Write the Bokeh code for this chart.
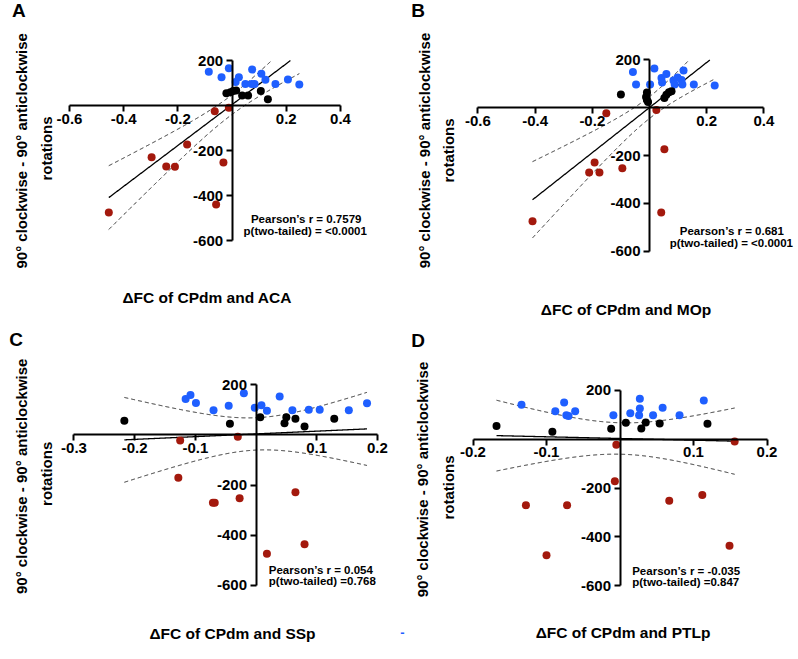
import math
import numpy as np
from bokeh.plotting import figure
from bokeh.models import LinearAxis, FixedTicker, PrintfTickFormatter, Label, Range1d
from bokeh.layouts import gridplot
from bokeh.embed import file_html
from bokeh.resources import INLINE

# ---------------- data ----------------
# Panel A : dFC of CPdm and ACA
blue_x_A = [-0.086, -0.039, -0.012, 0.013, 0.025, 0.049, 0.072, 0.083, 0.074, 0.108, 0.123, 0.160, 0.206, 0.248]
blue_y_A = [150, 126, 166, 104, 126, 96, 96, 96, 160, 141, 114, 96, 116, 93]
black_x_A = [-0.021, -0.006, 0.004, 0.015, 0.037, 0.059, 0.106, 0.132]
black_y_A = [55, 59, 64, 67, 44, 44, 64, 28]
red_x_A = [-0.064, -0.012, -0.166, -0.297, -0.243, -0.211, -0.032, -0.059, -0.455]
red_y_A = [-25, -10, -173, -230, -271, -272, -253, -440, -476]

# Panel B : dFC of CPdm and MOp
blue_x_B = [-0.058, -0.047, 0.002, 0.017, 0.042, 0.044, 0.059, 0.084, 0.088, 0.098, 0.112, 0.115, 0.119, 0.155, 0.228]
blue_y_B = [149, 97, 97, 164, 124, 105, 141, 114, 97, 126, 116, 97, 156, 97, 93]
black_x_B = [-0.100, -0.009, -0.012, -0.009, -0.005, 0.052, 0.059, 0.068, 0.077]
black_y_B = [55, 64, 45, 32, 24, 41, 54, 65, 69]
red_x_B = [-0.151, 0.024, 0.052, -0.192, -0.211, -0.175, -0.095, 0.041, -0.409]
red_y_B = [-23, -10, -174, -229, -271, -271, -253, -438, -475]

# Panel C : dFC of CPdm and SSp
blue_x_C = [-0.116, -0.108, -0.099, -0.070, -0.045, -0.020, -0.002, 0.009, 0.018, 0.039, 0.060, 0.087, 0.105, 0.153, 0.183]
blue_y_C = [143, 159, 127, 98, 116, 166, 108, 118, 96, 153, 98, 100, 100, 98, 126]
black_x_C = [-0.217, -0.043, 0.007, 0.050, 0.047, 0.065, 0.080, 0.129]
black_y_C = [56, 44, 70, 70, 46, 64, 33, 64]
red_x_C = [-0.125, -0.030, -0.128, -0.071, -0.068, -0.027, 0.065, 0.018, 0.080]
red_y_C = [-23, -8, -171, -271, -271, -253, -229, -474, -436]

# Panel D : dFC of CPdm and PTLp
blue_x_D = [-0.134, -0.088, -0.076, -0.073, -0.070, -0.061, -0.009, 0.014, 0.026, 0.027, 0.027, 0.045, 0.058, 0.081, 0.114]
blue_y_D = [140, 114, 150, 98, 94, 114, 98, 106, 98, 125, 165, 98, 128, 98, 158]
black_x_D = [-0.168, -0.092, -0.012, 0.008, 0.029, 0.035, 0.054, 0.119]
black_y_D = [54, 30, 42, 67, 43, 68, 64, 63]
red_x_D = [-0.005, 0.156, -0.128, -0.072, -0.100, -0.007, 0.067, 0.112, 0.149]
red_y_D = [-23, -10, -270, -270, -475, -172, -252, -229, -436]

xticks_AB = [-0.6, -0.4, -0.2, 0.2, 0.4]
xticks_C = [-0.3, -0.2, -0.1, 0.1, 0.2]
xticks_D = [-0.2, -0.1, 0.1, 0.2]
yticks = [-600, -400, -200, 200]

panel_letters = ["A", "B", "C", "D"]
x_titles = ["ΔFC of CPdm and ACA", "ΔFC of CPdm and MOp", "ΔFC of CPdm and SSp", "ΔFC of CPdm and PTLp"]
y_title_1 = "90° clockwise - 90° anticlockwise"
y_title_2 = "rotations"
stats_1 = ["Pearson’s r = 0.7579", "Pearson’s r = 0.681", "Pearson’s r = 0.054", "Pearson’s r = -0.035"]
stats_2 = ["p(two-tailed) = <0.0001", "p(two-tailed) = <0.0001", "p(two-tailed) =0.768", "p(two-tailed) =0.847"]

# ---------------- styling / layout ----------------
FONT = "Liberation Sans"
BLUE = "#1f5fff"
RED = "#a3190d"
W, H = 399, 329

layout_cfg = [
    dict(L=0, T=0, x0=231.6, sx=271.0, y0=105.0, sy=0.225, xt=xticks_AB,
         title=(206.7, 297), yl1=(20.7, 150.3), yl2=(45.5, 148), st=((305.7, 218.3), (304.7, 230.7)),
         st_align="center", letter=(18.3, 9.5)),
    dict(L=399, T=0, x0=649.0, sx=286.0, y0=107.2, sy=0.239, xt=xticks_AB,
         title=(625.5, 309), yl1=(424.0, 150), yl2=(448.3, 150), st=((731.3, 230), (730.8, 242.7)),
         st_align="center", letter=(417.5, 9.7)),
    dict(L=0, T=329, x0=255.5, sx=606.7, y0=434.3, sy=0.251, xt=xticks_C,
         title=(232.0, 633), yl1=(20.7, 475.8), yl2=(45.5, 473.3), st=((268.3, 569), (268.3, 580)),
         st_align="left", letter=(15.5, 339)),
    dict(L=399, T=329, x0=619.5, sx=735.0, y0=438.6, sy=0.2446, xt=xticks_D,
         title=(622.5, 632), yl1=(422.3, 479), yl2=(447.5, 487), st=((631.7, 570), (631.7, 581.7)),
         st_align="left", letter=(417.5, 340)),
]

series = [
    (blue_x_A, blue_y_A, black_x_A, black_y_A, red_x_A, red_y_A),
    (blue_x_B, blue_y_B, black_x_B, black_y_B, red_x_B, red_y_B),
    (blue_x_C, blue_y_C, black_x_C, black_y_C, red_x_C, red_y_C),
    (blue_x_D, blue_y_D, black_x_D, black_y_D, red_x_D, red_y_D),
]


def t_crit(df, q=0.975):
    c = math.gamma((df + 1) / 2) / (math.sqrt(df * math.pi) * math.gamma(df / 2))

    def cdf(t):
        g = np.linspace(0, t, 2001)
        f = c * (1 + g ** 2 / df) ** (-(df + 1) / 2)
        return 0.5 + np.trapezoid(f, g)

    lo, hi = 0.0, 10.0
    for _ in range(60):
        mid = (lo + hi) / 2
        if cdf(mid) < q:
            lo = mid
        else:
            hi = mid
    return (lo + hi) / 2


def fit_band(x, y):
    x = np.asarray(x, float)
    y = np.asarray(y, float)
    n = len(x)
    xb, yb = x.mean(), y.mean()
    sxx = ((x - xb) ** 2).sum()
    b = ((x - xb) * (y - yb)).sum() / sxx
    a = yb - b * xb
    s = math.sqrt(((y - (a + b * x)) ** 2).sum() / (n - 2))
    t = t_crit(n - 2)
    gx = np.linspace(x.min(), x.max(), 600)
    fy = a + b * gx
    hw = t * s * np.sqrt(1 / n + (gx - xb) ** 2 / sxx)
    return gx, fy, fy + hw, fy - hw


def clip(v, lo, hi):
    v = v.copy()
    v[(v > hi) | (v < lo)] = np.nan
    return v


def add_text(p, cfg, pos, text, size, align="center", angle=0.0, color="black"):
    px, py = pos
    p.add_layout(Label(x=px - cfg["L"], y=(cfg["T"] + H) - py, x_units="screen", y_units="screen",
                       text=text, text_align=align, text_baseline="middle", angle=angle,
                       text_font=FONT, text_font_style="bold", text_font_size=size,
                       text_color=color))


def style_axis(ax):
    ax.axis_line_width = 2
    ax.axis_line_color = "black"
    ax.major_tick_line_width = 2
    ax.major_tick_line_color = "black"
    ax.major_tick_out = 6
    ax.major_tick_in = 0
    ax.minor_tick_out = 0
    ax.minor_tick_in = 0
    ax.major_label_text_font = FONT
    ax.major_label_text_font_style = "bold"
    ax.major_label_text_font_size = "15px"
    ax.major_label_text_color = "black"
    ax.major_label_standoff = 2


figs = []
for i, cfg in enumerate(layout_cfg):
    bx, by, kx, ky, rx, ry = series[i]
    L, T = cfg["L"], cfg["T"]
    x_start = (L - cfg["x0"]) / cfg["sx"]
    x_end = (L + W - cfg["x0"]) / cfg["sx"]
    y_end = (cfg["y0"] - T) / cfg["sy"]
    y_start = (cfg["y0"] - (T + H)) / cfg["sy"]

    p = figure(width=W, height=H, x_range=Range1d(x_start, x_end), y_range=Range1d(y_start, y_end),
               x_axis_type=None, y_axis_type=None, output_backend="svg", toolbar_location=None,
               min_border=0, outline_line_color=None)
    p.min_border_left = p.min_border_right = p.min_border_top = p.min_border_bottom = 0

    xt = cfg["xt"]
    xa = LinearAxis(fixed_location=0, bounds=(min(xt), max(xt)), ticker=FixedTicker(ticks=xt),
                    formatter=PrintfTickFormatter(format="%.1f"))
    ya = LinearAxis(fixed_location=0, bounds=(min(yticks), max(yticks)), ticker=FixedTicker(ticks=yticks),
                    formatter=PrintfTickFormatter(format="%d"))
    style_axis(xa)
    style_axis(ya)
    ya.major_label_standoff = 3
    p.add_layout(xa, "below")
    p.add_layout(ya, "left")

    allx = list(bx) + list(kx) + list(rx)
    ally = list(by) + list(ky) + list(ry)
    gx, fy, up, lo = fit_band(allx, ally)
    ymin, ymax = min(yticks), max(yticks)
    p.line(gx, clip(fy, ymin, ymax), line_color="black", line_width=1.3)
    p.line(gx, clip(up, ymin, ymax), line_color="#222222", line_width=1, line_dash="4 3")
    p.line(gx, clip(lo, ymin, ymax), line_color="#222222", line_width=1, line_dash="4 3")

    p.scatter(bx, by, size=8, fill_color=BLUE, line_color=None)
    p.scatter(kx, ky, size=8, fill_color="black", line_color=None)
    p.scatter(rx, ry, size=8, fill_color=RED, line_color=None)

    add_text(p, cfg, cfg["letter"], panel_letters[i], "19px")
    add_text(p, cfg, cfg["title"], x_titles[i], "15.5px")
    add_text(p, cfg, cfg["yl1"], y_title_1, "15px", angle=math.pi / 2)
    add_text(p, cfg, cfg["yl2"], y_title_2, "15px", angle=math.pi / 2)
    (s1, s2) = cfg["st"]
    add_text(p, cfg, s1, stats_1[i], "11.5px", align=cfg["st_align"])
    add_text(p, cfg, s2, stats_2[i], "11.5px", align=cfg["st_align"])
    if i == 3:
        # small stray blue dash visible in the reference, left of panel D's title
        add_text(p, cfg, (402, 632), "-", "13px", color=BLUE)
    figs.append(p)

grid = gridplot([[figs[0], figs[1]], [figs[2], figs[3]]], toolbar_location=None)

with open("out.html", "w") as f:
    f.write(file_html(grid, INLINE))
